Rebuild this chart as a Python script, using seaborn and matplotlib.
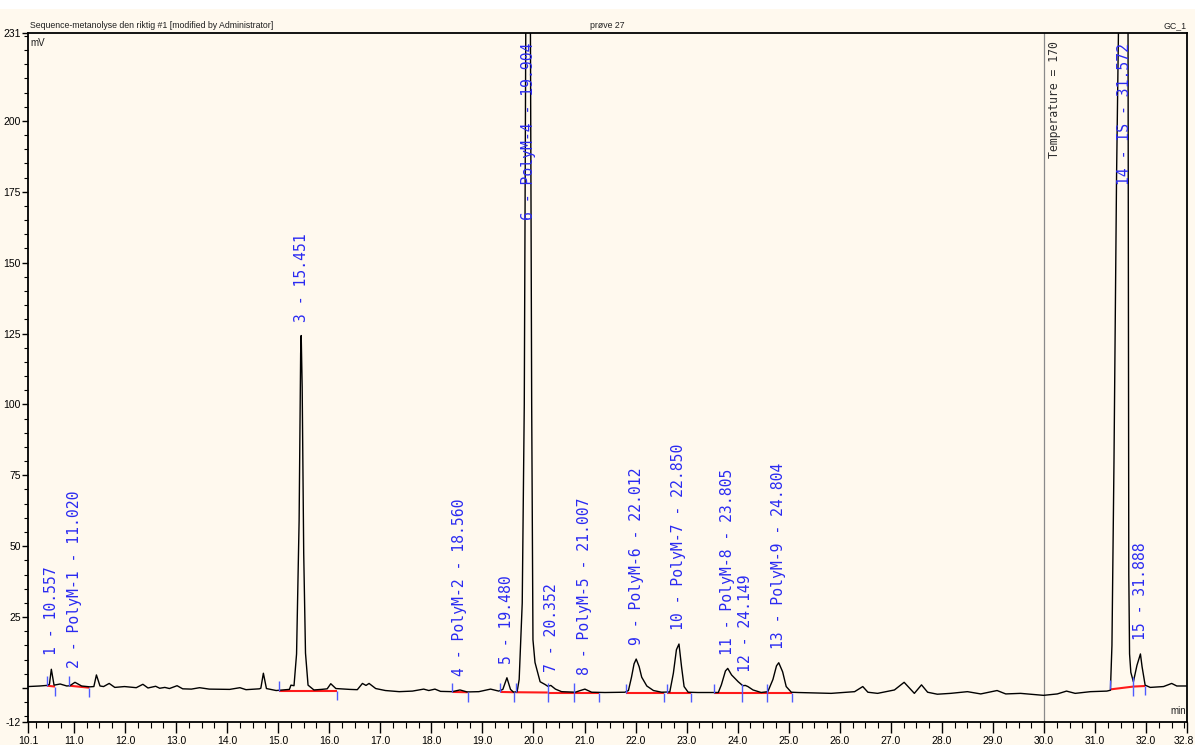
import numpy as np
import pandas as pd
import matplotlib
matplotlib.use("Agg")
import matplotlib.pyplot as plt
from matplotlib.patches import Rectangle
from matplotlib.ticker import FixedLocator, MultipleLocator
from matplotlib.transforms import ScaledTranslation
import seaborn as sns

# ---- detector trace: retention time (min) and signal (mV) ----
time_min = [
    10.10, 10.33, 10.47, 10.52, 10.557, 10.61, 10.73, 10.86, 10.92, 11.02,
    11.15, 11.31, 11.39, 11.44, 11.51, 11.58, 11.69, 11.80, 11.99, 12.22,
    12.35, 12.45, 12.60, 12.68, 12.78, 12.87, 13.02, 13.13, 13.30, 13.46,
    13.65, 14.05, 14.25, 14.37, 14.63, 14.66, 14.71, 14.77, 14.96, 15.22,
    15.25, 15.31, 15.36, 15.41, 15.44, 15.451, 15.47, 15.50, 15.535, 15.585,
    15.70, 15.85, 15.96, 16.03, 16.13, 16.40, 16.55, 16.65, 16.72, 16.78,
    16.91, 17.10, 17.37, 17.63, 17.85, 17.95, 18.07, 18.18, 18.41, 18.56,
    18.70, 18.93, 19.16, 19.32, 19.40, 19.48, 19.55, 19.61, 19.68, 19.72,
    19.78, 19.82, 19.85, 19.904, 19.94, 19.965, 19.99, 20.03, 20.07, 20.13,
    20.23, 20.28, 20.34, 20.43, 20.55, 20.82, 20.90, 21.007, 21.14, 21.40,
    21.79, 21.86, 21.92, 21.97, 22.012, 22.07, 22.12, 22.22, 22.35, 22.51,
    22.67, 22.74, 22.80, 22.85, 22.90, 22.95, 23.03, 23.22, 23.62, 23.68,
    23.76, 23.805, 23.88, 24.01, 24.10, 24.149, 24.20, 24.30, 24.46, 24.59,
    24.69, 24.76, 24.804, 24.88, 24.95, 25.05, 25.18, 25.83, 26.29, 26.45,
    26.55, 26.74, 27.07, 27.26, 27.46, 27.60, 27.72, 27.91, 28.17, 28.50,
    28.76, 29.08, 29.25, 29.54, 29.99, 30.26, 30.44, 30.61, 30.91, 31.23,
    31.30, 31.33, 31.37, 31.42, 31.46, 31.572, 31.645, 31.66, 31.675, 31.70,
    31.75, 31.82, 31.888, 31.92, 31.98, 32.08, 32.34, 32.50, 32.60, 32.80,
]
signal_mv = [
    0.5, 0.7, 0.9, 1.3, 6.6, 1.0, 1.4, 0.7, 0.8, 2.0,
    0.7, 0.4, 0.5, 4.6, 0.7, 0.5, 1.6, 0.2, 0.5, 0.1,
    1.3, 0.0, 0.6, -0.1, 0.2, -0.2, 0.8, -0.3, -0.4, 0.1,
    -0.4, -0.5, 0.1, -0.6, -0.3, -0.1, 5.2, -0.2, -0.9, -0.5,
    1.0, 0.8, 12.0, 59.0, 118.0, 124.3, 106.0, 47.5, 12.3, 1.0,
    -0.7, -0.5, -0.3, 1.5, -0.2, -0.5, -0.6, 1.6, 0.9, 1.6,
    -0.2, -0.9, -1.3, -1.1, -0.4, -0.9, -0.4, -1.2, -1.3, -0.7,
    -1.4, -1.3, -0.4, -1.1, -0.5, 3.6, -0.5, -1.5, -1.3, 3.0,
    30.0, 100.0, 235.0, 480.0, 235.0, 100.0, 17.0, 9.0, 6.3, 2.2,
    1.2, 0.6, 0.9, -0.4, -1.3, -1.5, -1.0, -0.4, -1.5, -1.6,
    -1.5, -0.9, 3.8, 8.5, 10.2, 7.5, 3.8, 0.7, -0.9, -1.5,
    -1.4, 5.2, 13.5, 15.5, 7.5, 0.5, -1.5, -1.6, -1.6, 1.1,
    6.0, 6.9, 4.6, 2.2, 0.8, 0.9, 0.5, -0.7, -1.6, -1.3,
    3.0, 7.8, 8.9, 5.7, 0.5, -1.5, -1.6, -1.9, -1.3, 0.5,
    -1.5, -1.9, -0.7, 2.0, -1.9, 1.1, -1.5, -2.2, -1.9, -1.3,
    -2.1, -0.9, -2.1, -1.9, -2.6, -2.1, -1.1, -1.9, -1.3, -1.1,
    -0.8, 15.0, 80.0, 180.0, 235.0, 700.0, 235.0, 40.0, 12.0, 5.5,
    2.2, 8.0, 12.0, 7.5, 1.0, 0.2, 0.5, 1.6, 0.7, 0.7,
]

# ---- integrated peaks ----
peak_rt = [10.557, 11.020, 15.451, 18.560, 19.480, 19.904, 20.352, 21.007,
           22.012, 22.850, 23.805, 24.149, 24.804, 31.572, 31.888]
peak_name = ["", "PolyM-1", "", "PolyM-2", "", "PolyM-4", "", "PolyM-5",
             "PolyM-6", "PolyM-7", "PolyM-8", "", "PolyM-9", "IS", ""]
base_start = [10.47, 10.91, 15.01, 18.41, 19.35, 19.65, 20.28, 20.80,
              21.82, 22.62, 23.54, 24.08, 24.57, 31.30, 31.75]
base_end = [10.63, 11.30, 16.16, 18.71, 19.62, 20.28, 20.80, 21.29,
            22.55, 23.08, 24.08, 24.57, 25.07, 31.75, 31.98]
base_start_mv = [0.8, 0.8, -0.9, -1.4, -1.4, -1.5, -1.6, -1.6,
                 -1.8, -1.8, -1.8, -1.8, -1.8, -0.5, 0.5]
base_end_mv = [0.5, 0.1, -0.9, -1.5, -1.5, -1.6, -1.6, -1.6,
               -1.8, -1.8, -1.8, -1.8, -1.8, 0.5, 0.7]

# ---- method event ----
event_time = 30.0
event_text = "Temperature = 170"

# ---- axes ----
x_lim = (10.1, 32.8)
y_lim = (-12, 231)
x_ticks = [10.1] + [float(v) for v in range(11, 33)] + [32.8]
x_tick_labels = [f"{v:.1f}" for v in x_ticks]
y_ticks = [-12, 0, 25, 50, 75, 100, 125, 150, 175, 200, 231]
y_tick_labels = ["-12", "", "25", "50", "75", "100", "125", "150", "175", "200", "231"]

title_left = "Sequence-metanolyse den riktig #1 [modified by Administrator]"
title_mid = "prøve 27"
title_right = "GC_1"

BG = "#FFF9EE"
BLUE = "#2A2AF2"

sns.set_theme(style="ticks", rc={
    "figure.facecolor": BG,
    "axes.facecolor": BG,
    "axes.edgecolor": "black",
    "axes.linewidth": 1.3,
    "xtick.color": "black",
    "ytick.color": "black",
})
narrow = ["Liberation Sans Narrow", "Liberation Sans", "DejaVu Sans"]
mono = ["DejaVu Sans Mono", "DejaVu Sans"]
plt.rcParams["font.family"] = narrow

fig = plt.figure(figsize=(11.95, 7.45), dpi=100)
ax = fig.add_axes([28 / 1195, 1 - 722 / 745, (1187 - 28) / 1195, (722 - 33) / 745])

# white strip along the top edge of the page
fig.add_artist(Rectangle((0, 1 - 9 / 745), 1, 9 / 745, transform=fig.transFigure,
                         facecolor="white", edgecolor="none", zorder=10))

trace = pd.DataFrame({"time": time_min, "signal": signal_mv})
sns.lineplot(data=trace, x="time", y="signal", estimator=None, sort=False,
             color="black", lw=1.0, ax=ax, zorder=3)

# event marker
ax.axvline(event_time, color="#8a8a8a", lw=0.9, zorder=1)
ax.annotate(event_text, xy=(event_time, y_lim[1]), xytext=(2.5, -6),
            textcoords="offset points", rotation=90, ha="left", va="top",
            fontsize=8.3, family=mono, color="#303030", zorder=4)

# integration baselines with start / end markers
for s, e, sy, ey in zip(base_start, base_end, base_start_mv, base_end_mv):
    ax.plot([s, e], [sy, ey], color="#FF1A1A", lw=1.5, zorder=2,
            solid_capstyle="butt")
tick_h = 3.3
ax.vlines(base_start, np.array(base_start_mv), np.array(base_start_mv) + tick_h,
          color="#4F5BFF", lw=1.0, zorder=4)
ax.vlines(base_end, np.array(base_end_mv) - tick_h, np.array(base_end_mv),
          color="#4F5BFF", lw=1.0, zorder=4)

# peak labels
for i, (rt, name) in enumerate(zip(peak_rt, peak_name), start=1):
    text = f"{i} - {name} - {rt:.3f}" if name else f"{i} - {rt:.3f}"
    apex = float(np.interp(rt, time_min, signal_mv))
    if apex > y_lim[1]:
        ax.annotate(text, xy=(rt, y_lim[1]), xytext=(0, -7),
                    textcoords="offset points", rotation=90, ha="center",
                    va="top", fontsize=10.6, family=mono, color=BLUE, zorder=5)
    else:
        ax.annotate(text, xy=(rt, apex), xytext=(0, 10),
                    textcoords="offset points", rotation=90, ha="center",
                    va="bottom", fontsize=10.6, family=mono, color=BLUE, zorder=5)

ax.set_xlim(*x_lim)
ax.set_ylim(*y_lim)
ax.xaxis.set_major_locator(FixedLocator(x_ticks))
ax.set_xticklabels(x_tick_labels)
ax.xaxis.set_minor_locator(MultipleLocator(0.25))
ax.yaxis.set_major_locator(FixedLocator(y_ticks))
ax.set_yticklabels(y_tick_labels)
ax.yaxis.set_minor_locator(MultipleLocator(5))
ax.tick_params(axis="x", which="major", length=8, width=1.0, pad=2, labelsize=7.5)
ax.tick_params(axis="x", which="minor", length=4, width=0.8)
ax.tick_params(axis="y", which="major", length=4, width=1.0, pad=1, labelsize=7.5)
ax.tick_params(axis="y", which="minor", length=3, width=0.8)
ax.set_xlabel("")
ax.set_ylabel("")
for sp in ax.spines.values():
    sp.set_visible(True)
    sp.set_linewidth(1.3)

# keep the last time label inside the page
last = ax.get_xticklabels()[-1]
last.set_horizontalalignment("right")
last.set_transform(last.get_transform() + ScaledTranslation(7 / 100, 0, fig.dpi_scale_trans))

ax.text(0.002, 0.993, "mV", transform=ax.transAxes, ha="left", va="top",
        fontsize=7, color="#202020")
ax.text(0.999, 0.008, "min", transform=ax.transAxes, ha="right", va="bottom",
        fontsize=7, color="#202020")
ax.text(0.002, 1.004, title_left, transform=ax.transAxes, ha="left",
        va="bottom", fontsize=6.3, color="#202020")
ax.text(0.5, 1.004, title_mid, transform=ax.transAxes, ha="center",
        va="bottom", fontsize=6.3, color="#202020")
ax.text(1.0, 1.004, title_right, transform=ax.transAxes, ha="right",
        va="bottom", fontsize=6.3, color="#202020")

fig.savefig("out.png", dpi=100, facecolor=BG)
